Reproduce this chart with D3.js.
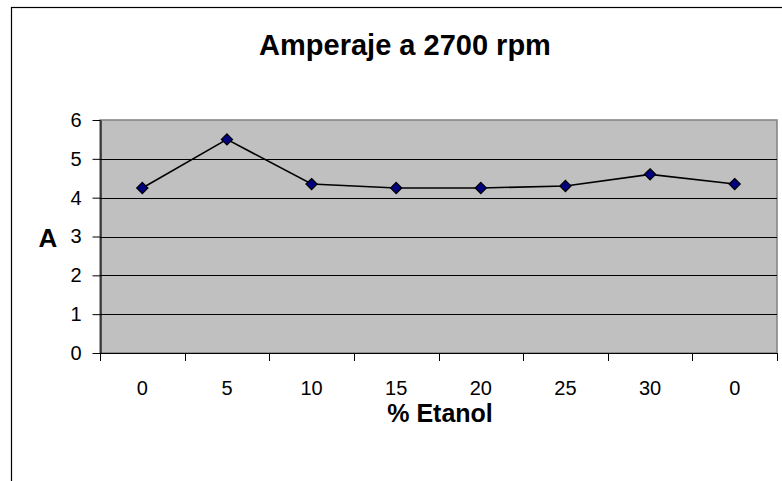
<!DOCTYPE html>
<html>
<head>
<meta charset="utf-8">
<script src="https://cdn.jsdelivr.net/npm/d3@7/dist/d3.min.js"></script>
<style>
  html, body { margin: 0; padding: 0; background: #fff; }
  svg { display: block; font-family: Arial, "Liberation Sans", sans-serif; }
</style>
</head>
<body>
<svg id="chart" width="782" height="481"></svg>
<script>
// Ethanol share (%) for each run, in the order tested
const categories = ["0", "5", "10", "15", "20", "25", "30", "0"];
// Measured current (A) at 2700 rpm
const amperes = [4.25, 5.5, 4.35, 4.25, 4.25, 4.3, 4.6, 4.35];
const yTicks = [0, 1, 2, 3, 4, 5, 6];

const svg = d3.select("#chart");
const plot = { left: 100, top: 120, right: 777, bottom: 353 };

// Chart frame
svg.append("rect")
  .attr("x", 11.5).attr("y", 7.5)
  .attr("width", 800).attr("height", 500)
  .attr("fill", "#fff").attr("stroke", "#000").attr("stroke-width", 1.2);

const x = d3.scaleBand()
  .domain(d3.range(categories.length))
  .range([plot.left, plot.right])
  .paddingInner(0).paddingOuter(0);

const y = d3.scaleLinear().domain([0, 6]).range([plot.bottom, plot.top]);

// Plot background
svg.append("rect")
  .attr("x", plot.left).attr("y", plot.top)
  .attr("width", plot.right - plot.left).attr("height", plot.bottom - plot.top)
  .attr("fill", "#C0C0C0").attr("stroke", "#808080").attr("stroke-width", 1.5);

// Horizontal gridlines
svg.append("g").selectAll("line")
  .data(yTicks.filter(d => d > 0 && d < 6))
  .join("line")
  .attr("x1", plot.left).attr("x2", plot.right)
  .attr("y1", d => Math.round(y(d)) + 0.5).attr("y2", d => Math.round(y(d)) + 0.5)
  .attr("stroke", "#000").attr("stroke-width", 1);

// Y axis
const yAxis = svg.append("g")
  .attr("transform", `translate(${plot.left + 0.5},0)`)
  .call(d3.axisLeft(y).tickValues(yTicks).tickFormat(d3.format("d"))
    .tickSize(8).tickPadding(11).tickSizeOuter(0));
yAxis.select(".domain").attr("stroke", "#000").attr("stroke-width", 1.2);
yAxis.selectAll(".tick line").attr("stroke", "#000");
yAxis.selectAll(".tick text")
  .attr("font-size", 20).attr("fill", "#000")
  .attr("font-family", "Arial, 'Liberation Sans', sans-serif");

// X axis with ticks on category boundaries
const boundaries = d3.range(categories.length + 1).map(i => plot.left + i * x.step());
const xAxisG = svg.append("g");
xAxisG.append("line")
  .attr("x1", plot.left).attr("x2", plot.right)
  .attr("y1", plot.bottom + 0.5).attr("y2", plot.bottom + 0.5)
  .attr("stroke", "#000").attr("stroke-width", 1.2);
xAxisG.selectAll("line.tk").data(boundaries).join("line")
  .attr("class", "tk")
  .attr("x1", d => Math.round(d) + 0.5).attr("x2", d => Math.round(d) + 0.5)
  .attr("y1", plot.bottom).attr("y2", plot.bottom + 8)
  .attr("stroke", "#000");
xAxisG.selectAll("text").data(categories).join("text")
  .attr("x", (d, i) => x(i) + x.bandwidth() / 2)
  .attr("y", 395)
  .attr("text-anchor", "middle")
  .attr("font-size", 20).attr("fill", "#000")
  .text(d => d);

// Series line
const line = d3.line()
  .x((d, i) => x(i) + x.bandwidth() / 2)
  .y(d => y(d));
svg.append("path")
  .datum(amperes)
  .attr("d", line)
  .attr("fill", "none").attr("stroke", "#000").attr("stroke-width", 1.6);

// Diamond markers
const diamond = d3.symbol().type(d3.symbolDiamond2).size(80);
svg.append("g").selectAll("path")
  .data(amperes)
  .join("path")
  .attr("transform", (d, i) => `translate(${x(i) + x.bandwidth() / 2},${y(d)})`)
  .attr("d", diamond)
  .attr("fill", "#000080").attr("stroke", "#000").attr("stroke-width", 1.2);

// Titles
svg.append("text")
  .attr("x", 405).attr("y", 55)
  .attr("text-anchor", "middle")
  .attr("font-size", 29).attr("font-weight", "bold")
  .text("Amperaje a 2700 rpm");

svg.append("text")
  .attr("x", 48).attr("y", 247)
  .attr("text-anchor", "middle")
  .attr("font-size", 26).attr("font-weight", "bold")
  .text("A");

svg.append("text")
  .attr("x", 440).attr("y", 422)
  .attr("text-anchor", "middle")
  .attr("font-size", 25).attr("font-weight", "bold")
  .text("% Etanol");
</script>
</body>
</html>
